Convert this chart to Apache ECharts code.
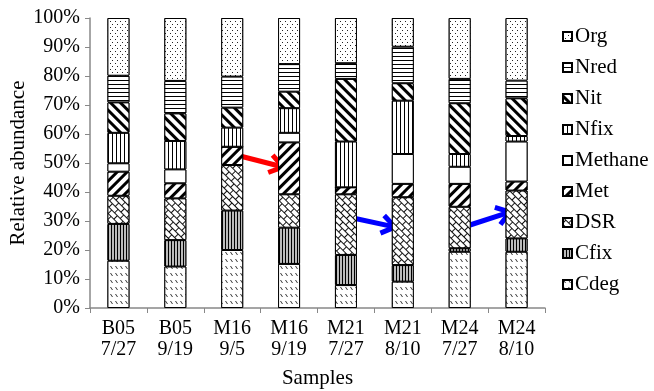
<!DOCTYPE html>
<html><head><meta charset="utf-8">
<script src="https://cdn.jsdelivr.net/npm/echarts@6/dist/echarts.min.js"></script>
<style>html,body{margin:0;padding:0;background:#fff}#c{width:654px;height:391px}</style>
</head><body><div id="c"></div>
<script>
const categories = ['B05\n7/27','B05\n9/19','M16\n9/5','M16\n9/19','M21\n7/27','M21\n8/10','M24\n7/27','M24\n8/10'];
const Cdeg    = [16.3, 14.3, 20.0, 15.2,  7.9,  9.1, 19.4, 19.4];
const Cfix    = [12.7,  9.1, 13.6, 12.5, 10.4,  5.7,  1.2,  4.6];
const DSR     = [ 9.7, 14.4, 15.7, 11.5, 20.9, 23.4, 14.3, 16.5];
const Met     = [ 8.3,  5.2,  6.3, 17.9,  2.4,  4.6,  7.9,  3.1];
const Methane = [ 2.9,  4.8,  0.0,  3.3,  0.0, 10.3,  5.9, 13.8];
const Nfix    = [10.5,  9.8,  6.6,  8.5, 15.8, 18.4,  4.4,  1.9];
const Nit     = [10.5,  9.5,  6.9,  5.7, 21.6,  6.0, 17.5, 13.0];
const Nred    = [ 9.2, 11.2, 10.7,  9.5,  5.4, 12.6,  8.4,  6.1];
const Org     = [19.9, 21.7, 20.2, 15.9, 15.6,  9.9, 21.0, 21.6];
const yTicks = [0,10,20,30,40,50,60,70,80,90,100];

const seriesNames = ['Cdeg','Cfix','DSR','Met','Methane','Nfix','Nit','Nred','Org'];
const seriesData = [Cdeg,Cfix,DSR,Met,Methane,Nfix,Nit,Nred,Org];

const decals = {
  Org:     {symbol:'rect', symbolSize:1, dashArrayX:[[1,4],[0,2,1,2]], dashArrayY:[1,2], color:'#222', backgroundColor:'#fff'},
  Nred:    {symbol:'rect', symbolSize:1, dashArrayX:[1,0], dashArrayY:[1,2.5], color:'#000', backgroundColor:'#fff'},
  Nit:     {symbol:'rect', symbolSize:1, dashArrayX:[1,0], dashArrayY:[2.5,3.5], rotation:Math.PI/4, color:'#000', backgroundColor:'#fff'},
  Nfix:    {symbol:'rect', symbolSize:1, dashArrayX:[1,2.5], dashArrayY:[1,0], color:'#000', backgroundColor:'#fff'},
  Methane: {symbol:'none', color:'#fff', backgroundColor:'#fff'},
  Met:     {symbol:'rect', symbolSize:1, dashArrayX:[1,0], dashArrayY:[2.5,3.5], rotation:-Math.PI/4, color:'#000', backgroundColor:'#fff'},
  DSR:     {symbol:'rect', symbolSize:1, dashArrayX:[[7,1],[3,1,4,0]], dashArrayY:[4,1], rotation:Math.PI/4, color:'#fff', backgroundColor:'#111'},
  Cfix:    {symbol:'rect', symbolSize:1, dashArrayX:[1,1.5], dashArrayY:[1,0], color:'#000', backgroundColor:'#bbb'},
  Cdeg:    {symbol:'path://M0 0L1 0L3 3L2 3Z', symbolSize:1, dashArrayX:[3,1.5], dashArrayY:[2.5,4], color:'#333', backgroundColor:'#fff'}
};

const font = 'Liberation Serif';
const chart = echarts.init(document.getElementById('c'), null, {renderer:'canvas'});

const series = seriesNames.map((n,i)=>({
  name:n, type:'bar', stack:'all', barWidth:22,
  data:seriesData[i],
  itemStyle:{color:'#fff', borderColor:'#000', borderWidth:1, decal:decals[n]},
  emphasis:{disabled:true}, animation:false
}));

function arrow(x1,y1,x2,y2,color){
  const dx=x2-x1, dy=y2-y1, L=Math.hypot(dx,dy), ux=dx/L, uy=dy/L, nx=-uy, ny=ux;
  const h=13, w=9;
  return [
    {type:'line', shape:{x1:x1,y1:y1,x2:x2-ux*2,y2:y2-uy*2}, style:{stroke:color,lineWidth:5}},
    {type:'polyline', shape:{points:[[x2-ux*h+nx*w,y2-uy*h+ny*w],[x2,y2],[x2-ux*h-nx*w,y2-uy*h-ny*w]]}, style:{stroke:color,lineWidth:5,fill:null,lineJoin:'miter'}}
  ];
}

chart.setOption({
  animation:false,
  backgroundColor:'#fff',
  grid:{left:90, right:109, top:18, bottom:83, containLabel:false, outerBoundsMode:'none'},
  legend:{
    orient:'vertical', left:557, top:21, itemGap:10, itemWidth:9, itemHeight:9,
    data:seriesNames.slice().reverse(),
    textStyle:{fontFamily:font, fontSize:21, color:'#000', padding:[0,0,0,-2]},
    icon:'rect', selectedMode:false
  },
  xAxis:{
    type:'category', data:categories, name:'Samples', nameLocation:'middle', nameGap:60,
    nameTextStyle:{fontFamily:font, fontSize:21, color:'#000'},
    axisLine:{lineStyle:{color:'#888', width:1.5}},
    axisTick:{show:true, alignWithLabel:false, length:5, lineStyle:{color:'#888'}},
    axisLabel:{fontFamily:font, fontSize:20, color:'#000', lineHeight:21, margin:10, interval:0}
  },
  yAxis:{
    type:'value', min:0, max:100, interval:10, name:'Relative abundance', nameLocation:'middle', nameGap:61,
    nameMoveOverlap:false,
    nameTextStyle:{fontFamily:font, fontSize:21, color:'#000'},
    axisLine:{show:true, lineStyle:{color:'#888', width:1.5}},
    axisTick:{show:true, length:5, lineStyle:{color:'#888'}},
    splitLine:{show:false},
    axisLabel:{fontFamily:font, fontSize:20, color:'#000', margin:10, formatter:v=>yTicks.includes(v)?v+'%':''}
  },
  series:series,
  graphic:[].concat(
    arrow(240,156,283,167,'#ff0000'),
    arrow(353,218,395,227,'#0000ff'),
    arrow(470,225,510,212,'#0000ff')
  )
});
</script></body></html>
